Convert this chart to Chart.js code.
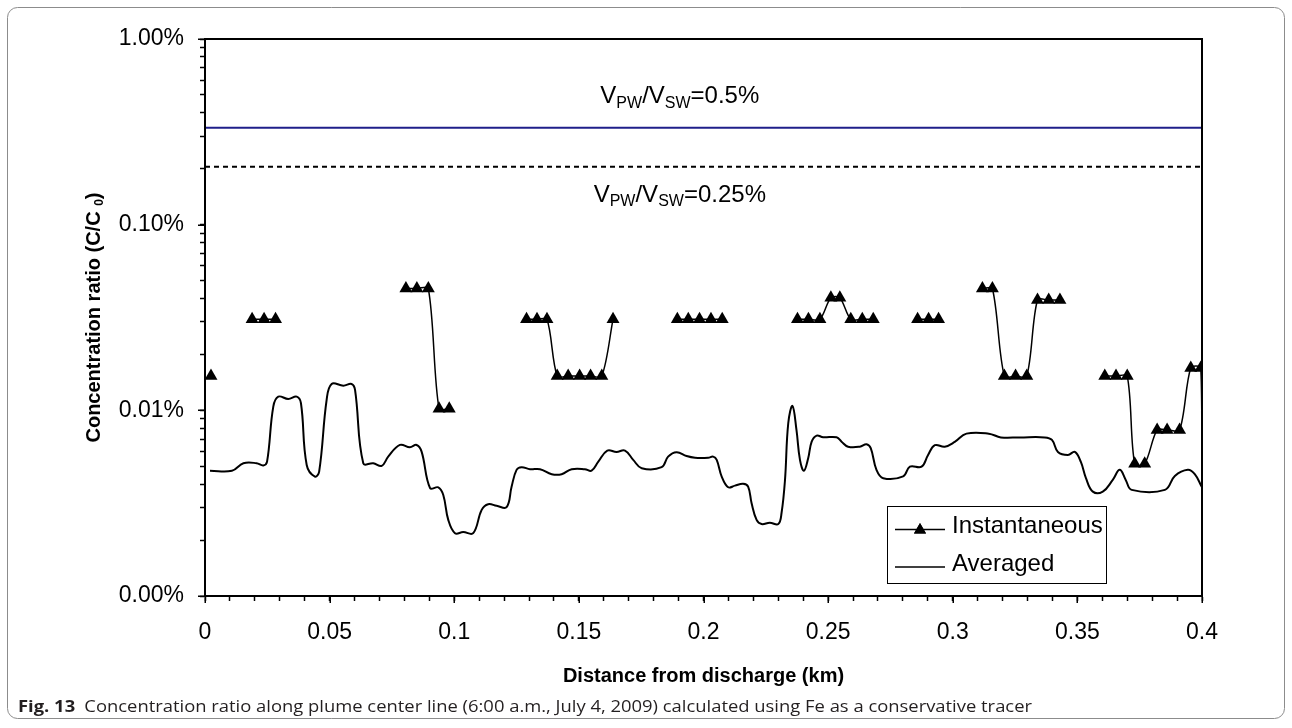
<!DOCTYPE html>
<html>
<head>
<meta charset="utf-8">
<title>Concentration ratio along plume center line</title>
<script src="https://cdn.jsdelivr.net/npm/chart.js@4.4.1/dist/chart.umd.min.js"></script>
<style>
  html, body { margin: 0; padding: 0; background: #ffffff; }
  canvas { display: block; }
</style>
</head>
<body>
<canvas id="plume" width="1292" height="728"></canvas>
<script>
// Distance from discharge (km) and concentration ratio (%) along the plume centre line.
const avgDistance = [
  0.0020, 0.0108, 0.0154, 0.0207, 0.0234, 0.0249, 0.0274, 0.0294, 0.0334, 0.0368,
  0.0385, 0.0408, 0.0441, 0.0458, 0.0488, 0.0508, 0.0555, 0.0588, 0.0602, 0.0635,
  0.0675, 0.0709, 0.0735, 0.0782, 0.0822, 0.0849, 0.0869, 0.0903, 0.0936, 0.0956,
  0.0976, 0.1003, 0.1036, 0.1076, 0.1110, 0.1136, 0.1170, 0.1210, 0.1230, 0.1250,
  0.1270, 0.1304, 0.1344, 0.1391, 0.1431, 0.1471, 0.1524, 0.1551, 0.1578, 0.1614,
  0.1651, 0.1685, 0.1718, 0.1752, 0.1832, 0.1858, 0.1892, 0.1932, 0.1966, 0.2019,
  0.2039, 0.2053, 0.2073, 0.2099, 0.2126, 0.2159, 0.2179, 0.2193, 0.2213, 0.2233,
  0.2266, 0.2300, 0.2313, 0.2327, 0.2340, 0.2357, 0.2373, 0.2387, 0.2403, 0.2420,
  0.2434, 0.2454, 0.2480, 0.2534, 0.2554, 0.2580, 0.2627, 0.2654, 0.2671, 0.2694,
  0.2721, 0.2801, 0.2828, 0.2875, 0.2901, 0.2928, 0.2968, 0.3008, 0.3055, 0.3145,
  0.3193, 0.3269, 0.3369, 0.3398, 0.3422, 0.3462, 0.3490, 0.3514, 0.3534, 0.3562,
  0.3602, 0.3642, 0.3670, 0.3694, 0.3718, 0.3851, 0.3891, 0.3943, 0.3971, 0.3999
];
const avgRatio = [
  0.00473, 0.00473, 0.00519, 0.00519, 0.00505, 0.00529, 0.01047, 0.01185, 0.01152, 0.01185,
  0.01092, 0.00508, 0.00440, 0.00468, 0.01138, 0.01387, 0.01358, 0.01387, 0.01288, 0.00519,
  0.00519, 0.00502, 0.00563, 0.00651, 0.00633, 0.00651, 0.00599, 0.00381, 0.00385, 0.00350,
  0.00257, 0.00218, 0.00221, 0.00218, 0.00291, 0.00312, 0.00306, 0.00301, 0.00388, 0.00478,
  0.00494, 0.00482, 0.00482, 0.00453, 0.00453, 0.00482, 0.00482, 0.00473, 0.00529, 0.00607,
  0.00597, 0.00607, 0.00541, 0.00488, 0.00494, 0.00563, 0.00595, 0.00568, 0.00556, 0.00556,
  0.00563, 0.00541, 0.00440, 0.00385, 0.00393, 0.00402, 0.00388, 0.00316, 0.00257, 0.00244,
  0.00248, 0.00244, 0.00279, 0.00422, 0.00852, 0.01056, 0.00784, 0.00541, 0.00473, 0.00552,
  0.00678, 0.00731, 0.00716, 0.00716, 0.00678, 0.00637, 0.00637, 0.00657, 0.00625, 0.00478,
  0.00431, 0.00441, 0.00497, 0.00497, 0.00575, 0.00649, 0.00637, 0.00676, 0.00749, 0.00749,
  0.00715, 0.00715, 0.00715, 0.00693, 0.00597, 0.00575, 0.00597, 0.00527, 0.00433, 0.00365,
  0.00365, 0.00422, 0.00478, 0.00422, 0.00373, 0.00373, 0.00443, 0.00478, 0.00453, 0.00387
];

// Instantaneous samples; null marks a break between measured stretches.
const instDistance = [
  0.0024, 0.0100,
  0.0189, 0.0237, 0.0283, 0.0500,
  0.0806, 0.0850, 0.0896, 0.0939, 0.0980, 0.1100,
  0.1290, 0.1332, 0.1372, 0.1413, 0.1457, 0.1503, 0.1547, 0.1592, 0.1637, 0.1750,
  0.1895, 0.1939, 0.1984, 0.2030, 0.2075, 0.2200,
  0.2377, 0.2421, 0.2467, 0.2511, 0.2547, 0.2591, 0.2637, 0.2681, 0.2770,
  0.2859, 0.2903, 0.2943, 0.3000,
  0.3119, 0.3159, 0.3207, 0.3252, 0.3297, 0.3340, 0.3385, 0.3430, 0.3520,
  0.3610, 0.3655, 0.3700, 0.3730, 0.3770, 0.3820, 0.3860, 0.3910, 0.3955, 0.3995, 0.4000
];
const instRatio = [
  0.0153, null,
  0.0309, 0.0309, 0.0309, null,
  0.0453, 0.0453, 0.0453, 0.0102, 0.0102, null,
  0.0309, 0.0309, 0.0309, 0.0153, 0.0153, 0.0153, 0.0153, 0.0153, 0.0309, null,
  0.0309, 0.0309, 0.0309, 0.0309, 0.0309, null,
  0.0309, 0.0309, 0.0309, 0.0404, 0.0404, 0.0309, 0.0309, 0.0309, null,
  0.0309, 0.0309, 0.0309, null,
  0.0453, 0.0453, 0.0153, 0.0153, 0.0153, 0.0393, 0.0393, 0.0393, null,
  0.0153, 0.0153, 0.0153, 0.00515, 0.00515, 0.00784, 0.00784, 0.00784, 0.0169, 0.0169, 0.0065
];

// Pore-water / seawater mixing scenarios and the resulting concentration ratio (%).
const scenarioLabels = ['0.5%', '0.25%'];
const scenarioRatio = [0.333, 0.205];

// Axis ticks
const xTickValues = Array.from({ length: 41 }, (_, i) => i / 100);
const yDecades = [0.001, 0.01, 0.1];
const yTop = 1;

const FONT = "'Liberation Sans', Arial, Helvetica, sans-serif";
const CAPTION_FONT = "'Open Sans', 'Noto Sans', sans-serif";
const MINOR_TICK = 5;
const MAJOR_TICK = 7;

function toPoints(xs, ys) {
  return xs.map((x, i) => ({ x: x, y: ys[i] }));
}

// Draw a sequence of text runs (normal / subscript) left to right.
function drawRuns(ctx, runs, x, y, align) {
  let total = 0;
  runs.forEach(r => {
    ctx.font = `${r.weight || 'normal'} ${r.size}px ${FONT}`;
    r.w = ctx.measureText(r.text).width;
    total += r.w;
  });
  let cx = align === 'center' ? x - total / 2 : x;
  ctx.textAlign = 'left';
  ctx.textBaseline = 'alphabetic';
  runs.forEach(r => {
    ctx.font = `${r.weight || 'normal'} ${r.size}px ${FONT}`;
    ctx.fillText(r.text, cx, y + (r.dy || 0));
    cx += r.w;
  });
}

const decorations = {
  id: 'decorations',
  beforeDraw(chart) {
    const ctx = chart.ctx;
    ctx.save();
    ctx.fillStyle = '#ffffff';
    ctx.fillRect(0, 0, chart.width, chart.height);
    // outer figure frame
    ctx.strokeStyle = '#8c8c8c';
    ctx.lineWidth = 1;
    ctx.beginPath();
    ctx.roundRect(7.5, 7.5, 1277, 711, 10);
    ctx.stroke();
    ctx.restore();
  },
  afterDraw(chart) {
    const ctx = chart.ctx;
    const area = chart.chartArea;
    const xs = chart.scales.x;
    const ys = chart.scales.y;
    ctx.save();

    // plot area box
    ctx.strokeStyle = '#000';
    ctx.lineWidth = 2;
    ctx.strokeRect(area.left, area.top, area.right - area.left, area.bottom - area.top);

    // longer marks at the labelled ticks
    ctx.lineWidth = 1.5;
    ctx.beginPath();
    xs.ticks.forEach(t => {
      if (Math.round(t.value * 100) % 5 === 0) {
        const px = Math.round(xs.getPixelForValue(t.value)) + 0.25;
        ctx.moveTo(px, area.bottom);
        ctx.lineTo(px, area.bottom + MAJOR_TICK);
      }
    });
    ys.ticks.forEach(t => {
      if (t.major) {
        const py = Math.round(ys.getPixelForValue(t.value)) + 0.25;
        ctx.moveTo(area.left, py);
        ctx.lineTo(area.left - MAJOR_TICK, py);
      }
    });
    ctx.stroke();

    // scenario labels
    ctx.fillStyle = '#000';
    const labelX = xs.getPixelForValue(0.1905);
    const vRuns = (tail) => [
      { text: 'V', size: 24 },
      { text: 'PW', size: 16, dy: 4.5 },
      { text: '/V', size: 24 },
      { text: 'SW', size: 16, dy: 4.5 },
      { text: '=' + tail, size: 24 }
    ];
    drawRuns(ctx, vRuns(scenarioLabels[0]), labelX, ys.getPixelForValue(scenarioRatio[0]) - 24.5, 'center');
    drawRuns(ctx, vRuns(scenarioLabels[1]), labelX, ys.getPixelForValue(scenarioRatio[1]) + 35, 'center');

    // axis titles
    ctx.save();
    ctx.translate(100, (area.top + area.bottom) / 2);
    ctx.rotate(-Math.PI / 2);
    drawRuns(ctx, [
      { text: 'Concentration ratio (C/C ', size: 20, weight: 'bold' },
      { text: '0', size: 12, weight: 'bold', dy: 3 },
      { text: ')', size: 20, weight: 'bold' }
    ], 0, 0, 'center');
    ctx.restore();
    drawRuns(ctx, [{ text: 'Distance from discharge (km)', size: 20, weight: 'bold' }],
      (area.left + area.right) / 2, 682, 'center');

    // legend
    const lg = { x: 887, y: 506, w: 219, h: 77 };
    ctx.fillStyle = '#fff';
    ctx.fillRect(lg.x, lg.y, lg.w, lg.h);
    ctx.strokeStyle = '#000';
    ctx.lineWidth = 1;
    ctx.strokeRect(lg.x + 0.5, lg.y + 0.5, lg.w, lg.h);
    const rows = [
      { ds: chart.data.datasets[0], y: 529.5 },
      { ds: chart.data.datasets[1], y: 567 }
    ];
    rows.forEach(row => {
      ctx.strokeStyle = row.ds.borderColor;
      ctx.lineWidth = 1.5;
      ctx.beginPath();
      ctx.moveTo(895, row.y);
      ctx.lineTo(945, row.y);
      ctx.stroke();
      if (row.ds.pointStyle === 'triangle') {
        ctx.fillStyle = '#000';
        Chart.helpers.drawPoint(ctx, { pointStyle: 'triangle', radius: 7, borderWidth: 0, rotation: 0 }, 920, row.y + 0.5);
        ctx.fill();
      }
      ctx.fillStyle = '#000';
      ctx.font = `24px ${FONT}`;
      ctx.textAlign = 'left';
      ctx.textBaseline = 'alphabetic';
      ctx.fillText(row.ds.label, 952, row.y + 3.5);
    });

    // figure caption
    ctx.fillStyle = '#231f20';
    ctx.textBaseline = 'alphabetic';
    ctx.textAlign = 'left';
    const capBold = 'Fig. 13';
    const capText = 'Concentration ratio along plume center line (6:00 a.m., July 4, 2009) calculated using Fe as a conservative tracer';
    ctx.font = `bold 16px ${CAPTION_FONT}`;
    const wb = ctx.measureText(capBold).width;
    ctx.font = `16px ${CAPTION_FONT}`;
    const wt = ctx.measureText(capText).width;
    const gap = 8;
    const target = 1032 - 18;
    const sx = target / (wb + gap + wt);
    ctx.save();
    ctx.translate(18, 712);
    ctx.scale(sx, 1);
    ctx.font = `bold 16px ${CAPTION_FONT}`;
    ctx.fillText(capBold, 0, 0);
    ctx.font = `16px ${CAPTION_FONT}`;
    ctx.fillText(capText, wb + gap, 0);
    ctx.restore();

    ctx.restore();
  }
};

new Chart(document.getElementById('plume'), {
  type: 'line',
  data: {
    datasets: [
      {
        label: 'Instantaneous',
        data: toPoints(instDistance, instRatio),
        borderColor: '#000',
        borderWidth: 1.5,
        pointStyle: 'triangle',
        pointRadius: c => (c.raw && c.raw.x >= 0.4 ? 0 : 7.5),
        pointBackgroundColor: '#000',
        pointBorderColor: '#000',
        pointBorderWidth: 0,
        tension: 0.3,
        spanGaps: false,
        order: 0
      },
      {
        label: 'Averaged',
        data: toPoints(avgDistance, avgRatio),
        borderColor: '#000',
        borderWidth: 2,
        pointRadius: 0,
        tension: 0.4,
        order: 1
      },
      {
        label: 'V_PW/V_SW=' + scenarioLabels[0],
        data: [{ x: 0, y: scenarioRatio[0] }, { x: 0.4, y: scenarioRatio[0] }],
        borderColor: '#1f1f8a',
        borderWidth: 2,
        pointRadius: 0,
        order: 2
      },
      {
        label: 'V_PW/V_SW=' + scenarioLabels[1],
        data: [{ x: 0, y: scenarioRatio[1] }, { x: 0.4, y: scenarioRatio[1] }],
        borderColor: '#000',
        borderWidth: 2,
        borderDash: [5, 4],
        pointRadius: 0,
        order: 3
      }
    ]
  },
  options: {
    responsive: false,
    animation: false,
    devicePixelRatio: 1,
    layout: { padding: { left: 0, right: 90, top: 39, bottom: 0 } },
    plugins: {
      legend: { display: false },
      tooltip: { enabled: false }
    },
    scales: {
      x: {
        type: 'linear',
        min: 0,
        max: 0.4,
        afterFit(scale) { scale.height = 132; },
        afterBuildTicks(scale) { scale.ticks = xTickValues.map(v => ({ value: v })); },
        border: { color: '#000', width: 2 },
        grid: { drawOnChartArea: false, drawTicks: true, tickLength: MINOR_TICK, color: '#000', tickColor: '#000', tickWidth: 1.5 },
        ticks: {
          autoSkip: false,
          maxRotation: 0,
          padding: 18,
          color: '#000',
          font: { family: FONT, size: 23 },
          callback: v => (Math.round(v * 100) % 5 === 0 ? String(parseFloat(v.toFixed(2))) : '')
        }
      },
      y: {
        type: 'logarithmic',
        min: yDecades[0],
        max: yTop,
        afterFit(scale) { scale.width = 205; },
        afterBuildTicks(scale) {
          const t = [];
          yDecades.forEach(d => { for (let m = 1; m <= 9; m++) t.push({ value: +(m * d).toPrecision(3), major: m === 1 }); });
          t.push({ value: yTop, major: true });
          scale.ticks = t;
        },
        border: { color: '#000', width: 2 },
        grid: { drawOnChartArea: false, drawTicks: true, tickLength: MINOR_TICK, color: '#000', tickColor: '#000', tickWidth: 1.5 },
        ticks: {
          autoSkip: false,
          padding: 16,
          color: '#000',
          font: { family: FONT, size: 23 },
          callback: v => {
            const e = Math.log10(v);
            return Math.abs(e - Math.round(e)) < 1e-6 ? v.toFixed(2) + '%' : '';
          }
        }
      }
    }
  },
  plugins: [decorations]
});
</script>
</body>
</html>
